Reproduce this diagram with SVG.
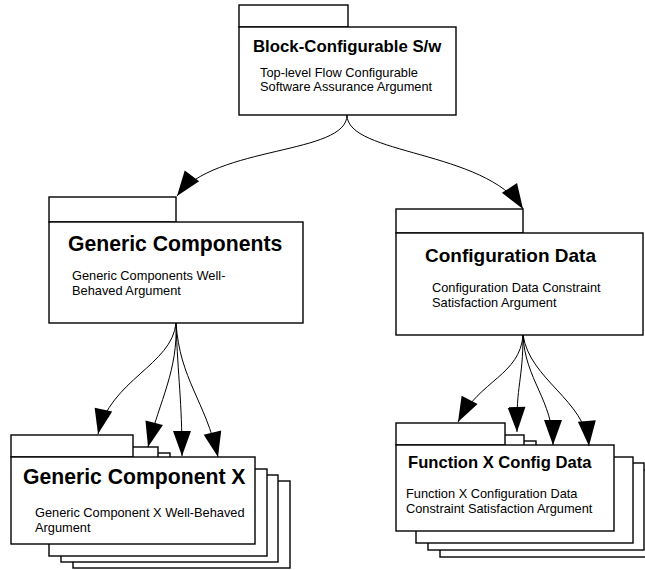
<svg xmlns="http://www.w3.org/2000/svg" width="645" height="570" viewBox="0 0 645 570">
  <defs>
    <style>
      .box { fill: #fff; stroke: #000; stroke-width: 1.4; }
      .title { font-family: "Liberation Sans", Arial, sans-serif; font-weight: bold; fill: #000; }
      .desc { font-family: "Liberation Sans", Arial, sans-serif; font-size: 12.8px; fill: #000; }
      .link { fill: none; stroke: #000; stroke-width: 1; }
    </style>
    <marker id="arrow" markerUnits="userSpaceOnUse" markerWidth="26" markerHeight="19" refX="25" refY="9" orient="auto" overflow="visible">
      <path d="M0,0 L25,9 L0,18 Z" fill="#000"/>
    </marker>
  </defs>

  <rect width="645" height="570" fill="#fff"/>

  <!-- top-level module -->
  <g id="block-configurable">
    <rect class="box" x="239" y="5" width="109" height="22"/>
    <rect class="box" x="239" y="27" width="217" height="88"/>
    <text class="title" x="253" y="52" font-size="16.8">Block-Configurable S/w</text>
    <text class="desc" x="260" y="77">Top-level Flow Configurable</text>
    <text class="desc" x="260" y="91">Software Assurance Argument</text>
  </g>

  <g id="generic-components">
    <rect class="box" x="49" y="197" width="127" height="25"/>
    <rect class="box" x="49" y="222" width="254" height="101"/>
    <text class="title" x="68" y="251" font-size="21.2">Generic Components</text>
    <text class="desc" x="72" y="280">Generic Components Well-</text>
    <text class="desc" x="72" y="295">Behaved Argument</text>
  </g>

  <g id="configuration-data">
    <rect class="box" x="396" y="209" width="127" height="24"/>
    <rect class="box" x="396" y="233" width="247" height="102"/>
    <text class="title" x="425" y="262" font-size="19">Configuration Data</text>
    <text class="desc" x="432" y="292">Configuration Data Constraint</text>
    <text class="desc" x="432" y="307">Satisfaction Argument</text>
  </g>

  <!-- stacked module: many instances -->
  <g id="generic-component-x">
    <rect class="box" x="73" y="459" width="109" height="22"/>
    <rect class="box" x="73" y="481" width="217" height="87"/>
    <rect class="box" x="61" y="453" width="109" height="22"/>
    <rect class="box" x="61" y="475" width="217" height="87"/>
    <rect class="box" x="49" y="447" width="109" height="22"/>
    <rect class="box" x="49" y="469" width="218" height="87"/>
    <rect class="box" x="11" y="435" width="122" height="22"/>
    <rect class="box" x="11" y="457" width="244" height="87"/>
    <text class="title" x="23" y="484" font-size="21.2">Generic Component X</text>
    <text class="desc" x="35" y="517">Generic Component X Well-Behaved</text>
    <text class="desc" x="35" y="532">Argument</text>
  </g>

  <g id="function-x-config-data">
    <rect class="box" x="440" y="448" width="108" height="22"/>
    <rect class="box" x="440" y="470" width="217" height="87"/>
    <rect class="box" x="428" y="441" width="108" height="22"/>
    <rect class="box" x="428" y="463" width="216" height="87"/>
    <rect class="box" x="416" y="435" width="108" height="22"/>
    <rect class="box" x="416" y="457" width="217" height="86"/>
    <rect class="box" x="396" y="423" width="109" height="22"/>
    <rect class="box" x="396" y="445" width="218" height="86"/>
    <text class="title" x="408" y="468" font-size="16.6">Function X Config Data</text>
    <text class="desc" x="406" y="498">Function X Configuration Data</text>
    <text class="desc" x="406" y="513">Constraint Satisfaction Argument</text>
  </g>

  <!-- decomposition links -->
  <g id="connectors" class="link" marker-end="url(#arrow)">
    <path d="M347,115 C347,155 215,145 177,196"/>
    <path d="M347,115 C347,155 485,150 523,209"/>
    <path d="M176,323 C172,365 110,380 98,434"/>
    <path d="M176,323 C178,370 160,400 148,447"/>
    <path d="M176,323 C178,380 182,400 182,456"/>
    <path d="M176,323 C180,380 205,400 218,457"/>
    <path d="M523,335 C520,375 480,380 458,422"/>
    <path d="M523,335 C523,380 516,385 517,432"/>
    <path d="M523,335 C525,380 553,400 553,445"/>
    <path d="M523,335 C530,380 585,400 589,446"/>
  </g>
</svg>
